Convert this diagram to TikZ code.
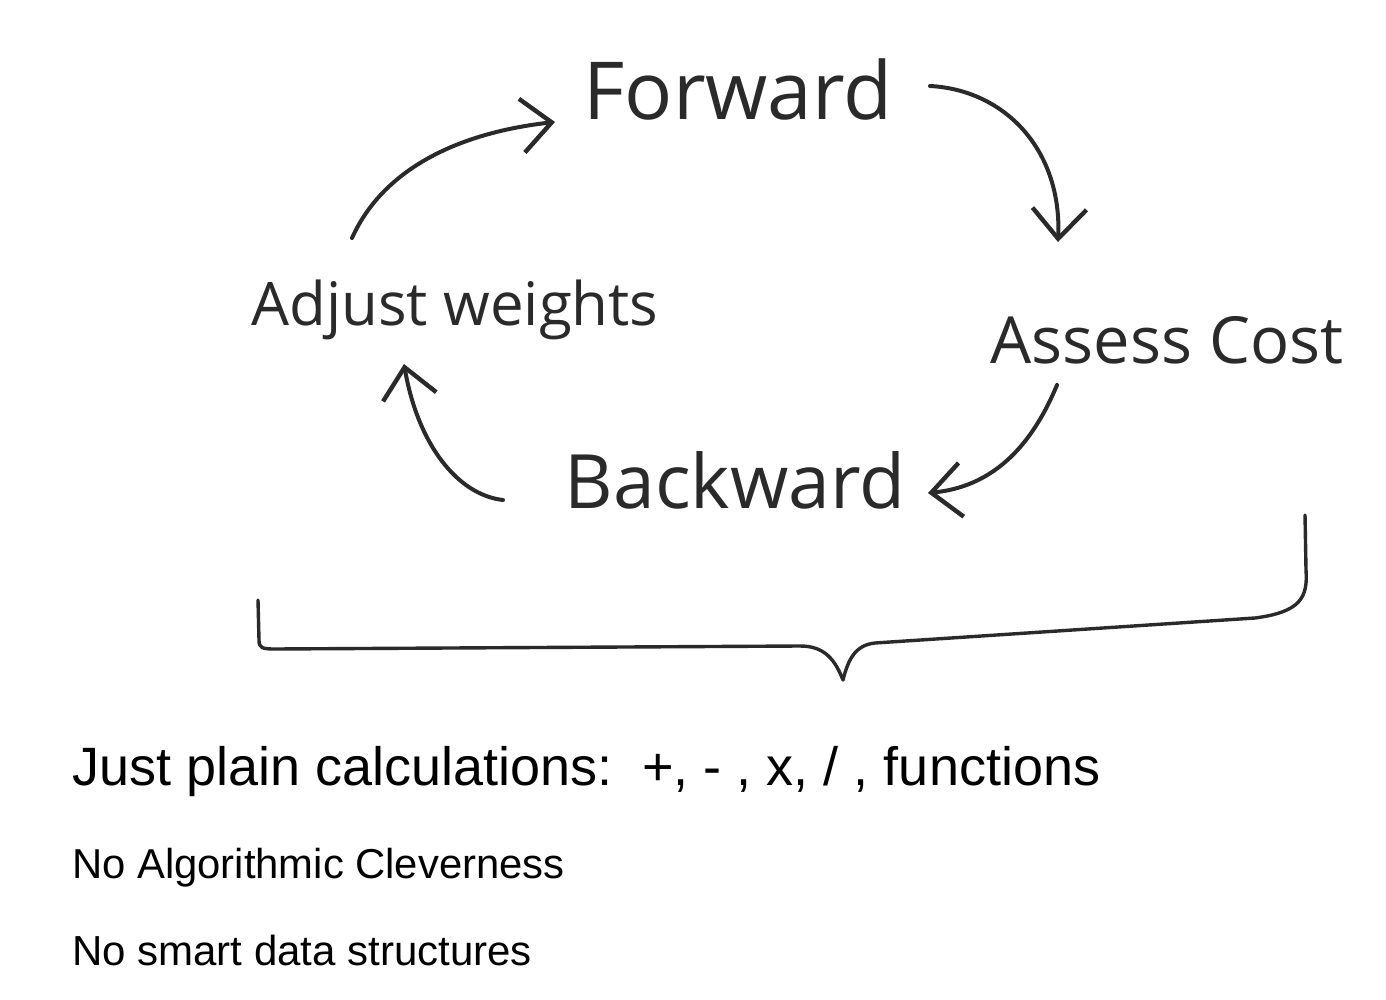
\documentclass[tikz,border=0pt]{standalone}
\usepackage{fontspec}
\newfontfamily\helv{Liberation Sans}
\newfontfamily\handf{Open Sans}
\usetikzlibrary{arrows.meta}
\definecolor{ink}{HTML}{2A2A2A}
\tikzset{
  hand/.style={inner sep=0pt, text=ink},
  flow/.style={draw=ink, line width=4pt, line cap=round,
    -{Straight Barb[length=30pt,width=54pt,line width=4.4pt]}},
  brace/.style={draw=ink, line width=3.4pt, line cap=round, line join=round},
  caption/.style={anchor=base west, inner sep=0pt, text=black, font=\helv}
}
\begin{document}
\begin{tikzpicture}[x=1pt,y=-1pt]
\useasboundingbox (0,0) rectangle (1386,1000);
% labels
\node[hand, font=\handf\fontsize{80}{90}\selectfont] (fwd) at (738,90) {Forward};
\node[hand, font=\handf\fontsize{60}{70}\selectfont] (adj) at (455,310) {Adjust weights};
\node[hand, font=\handf\fontsize{65}{80}\selectfont] (cost) at (1167,340) {Assess Cost};
\node[hand, font=\handf\fontsize{75}{88}\selectfont] (bwd) at (735,480) {Backward};
% connector ends
\coordinate (a1s) at (352,238);
\coordinate (a1e) at (555,122);
\coordinate (a2s) at (930,86);
\coordinate (a2e) at (1058,242);
\coordinate (a3s) at (1057,385);
\coordinate (a3e) at (928,493);
\coordinate (a4s) at (503,500);
\coordinate (a4e) at (404,364);
\draw[flow] (a1s) .. controls (385,165) and (465,132) .. (a1e);
\draw[flow] (a2s) .. controls (1005,90) and (1062,150) .. (a2e);
\draw[flow] (a3s) .. controls (1030,450) and (990,487) .. (a3e);
\draw[flow] (a4s) .. controls (458,495) and (418,445) .. (a4e);
% brace
\draw[brace] (258,600) -- (259,640) .. controls (259,648) and (262,649) .. (275,649)
  -- (800,646) .. controls (825,646) and (835,660) .. (843,680)
  .. controls (848,660) and (855,645) .. (875,643)
  -- (1255,618) .. controls (1300,612) and (1308,598) .. (1306,570)
  -- (1305,515);
% captions
\node[caption, font=\helv\fontsize{54}{60}\selectfont] (c1) at (72,785) {Just plain calculations:\ \ +, - , x, / , functions};
\node[caption, font=\helv\fontsize{41.8}{46}\selectfont] (c2) at (72,878) {No Algorithmic Cleverness};
\node[caption, font=\helv\fontsize{42}{46}\selectfont] (c3) at (72,965) {No smart data structures};
\end{tikzpicture}
\end{document}
